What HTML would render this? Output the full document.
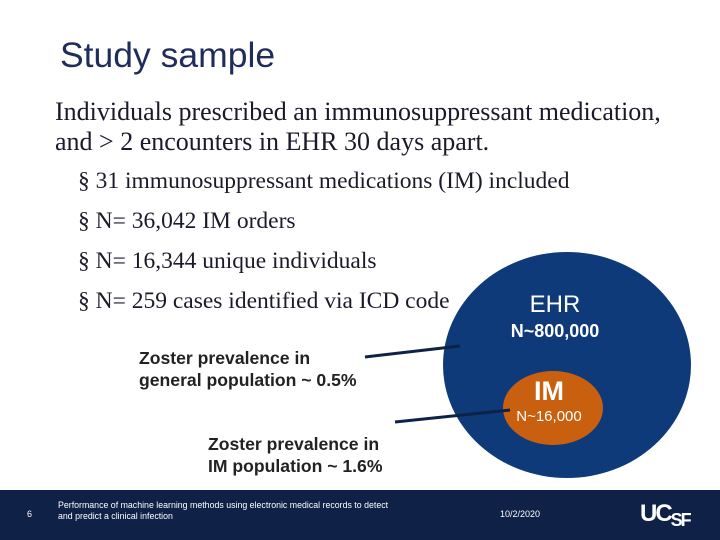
<!DOCTYPE html>
<html><head><meta charset="utf-8"><style>
body{margin:0;width:720px;height:540px;position:relative;background:#fff;overflow:hidden;font-family:"Liberation Sans",sans-serif}
.a{position:absolute;white-space:nowrap}
.s{font-family:"Liberation Serif",serif;color:#1a1a2a}
</style></head><body>
<div class="a" style="left:60px;top:35px;font-size:35.5px;color:#1f2d5a">Study sample</div>
<div class="a s" style="left:55px;top:97px;font-size:26px;line-height:30px">Individuals prescribed an immunosuppressant medication,<br>and &gt; 2 encounters in EHR 30 days apart.</div>
<div class="a s" style="left:78px;top:168px;font-size:23.5px">§ 31 immunosuppressant medications (IM) included</div>
<div class="a s" style="left:78px;top:208px;font-size:23.5px">§ N= 36,042 IM orders</div>
<div class="a s" style="left:78px;top:248px;font-size:23.5px">§ N= 16,344 unique individuals</div>
<div class="a s" style="left:78px;top:288px;font-size:23.5px">§ N= 259 cases identified via ICD code</div>
<svg class="a" style="left:0;top:0" width="720" height="540">
<ellipse cx="567" cy="365" rx="124" ry="113" fill="#0f3a7a"/>
<ellipse cx="553" cy="408" rx="50" ry="37" fill="#c8600f"/>
<line x1="365" y1="357" x2="460" y2="346" stroke="#0d2244" stroke-width="3"/>
<line x1="395" y1="422" x2="510" y2="410" stroke="#0d2244" stroke-width="3"/>
<text x="555" y="312" fill="#fff" font-size="24" text-anchor="middle" font-family="Liberation Sans">EHR</text>
<text x="555" y="337" fill="#fff" font-size="18" font-weight="bold" text-anchor="middle" font-family="Liberation Sans">N~800,000</text>
<text x="549" y="400" fill="#fff" font-size="27" font-weight="bold" text-anchor="middle" font-family="Liberation Sans">IM</text>
<text x="549" y="421" fill="#fff" font-size="15" text-anchor="middle" font-family="Liberation Sans">N~16,000</text>
</svg>
<div class="a" style="left:139px;top:347px;font-size:17.6px;font-weight:bold;line-height:22px;color:#222">Zoster prevalence in<br>general population ~ 0.5%</div>
<div class="a" style="left:208px;top:433px;font-size:17.6px;font-weight:bold;line-height:22px;color:#222">Zoster prevalence in<br>IM population ~ 1.6%</div>
<div class="a" style="left:0;top:490px;width:720px;height:50px;background:#0f2147;color:#fff">
<div class="a" style="left:27px;top:19px;font-size:9px">6</div>
<div class="a" style="left:58px;top:10px;font-size:8.8px;line-height:11px">Performance of machine learning methods using electronic medical records to detect<br>and predict a clinical infection</div>
<div class="a" style="left:500px;top:19px;font-size:9px">10/2/2020</div>
<div class="a" style="left:640px;top:10px;font-size:24px;font-weight:bold;letter-spacing:-2px">UC<span style="font-size:18px;position:relative;top:5px">SF</span></div>
</div>
</body></html>
